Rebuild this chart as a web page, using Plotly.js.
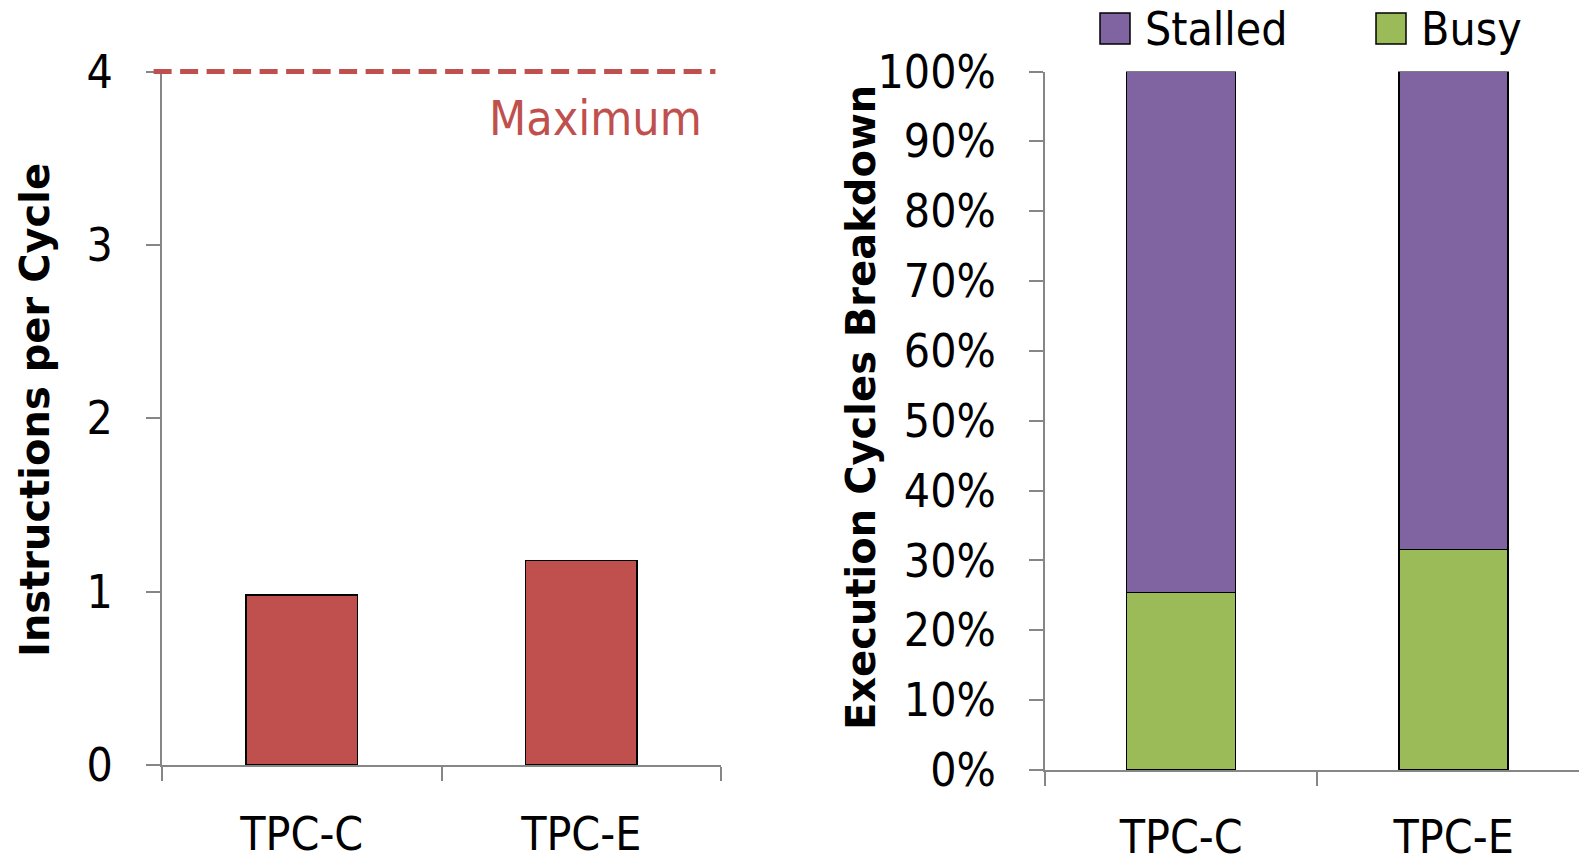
<!DOCTYPE html>
<html>
<head>
<meta charset="utf-8">
<script src="https://cdn.plot.ly/plotly-3.0.1.min.js"></script>
<style>
  html, body { margin: 0; padding: 0; background: #ffffff; }
  #chart { width: 1579px; height: 858px; }
</style>
</head>
<body>
<div id="chart"></div>
<script>
// Workloads
const workloads = ["TPC-C", "TPC-E"];

// Instructions per cycle, and the issue-width ceiling
const ipc = [0.98, 1.18];
const maxIPC = 4;
const ipcRange = [0, 4];
const ipcTicks = [0, 1, 2, 3, 4];

// Execution cycle breakdown (fractions of all cycles)
const busyShare = [0.254, 0.316];
const stalledShare = [0.746, 0.684];
const pctTicks = [0, 0.1, 0.2, 0.3, 0.4, 0.5, 0.6, 0.7, 0.8, 0.9, 1.0];

const RED = "#C0504D";
const PURPLE = "#8064A2";
const GREEN = "#9BBB59";
const AXIS = "#868686";
const NARROW = "Liberation Sans Narrow, DejaVu Sans Condensed, Arial Narrow, sans-serif";
const TICK_FONT = { family: NARROW, size: 46, color: "#000000" };
const TITLE_FONT = { family: "DejaVu Sans, Verdana, sans-serif", size: 40, color: "#000000", weight: 700 };

const traces = [
  {
    type: "bar", x: workloads, y: ipc, xaxis: "x", yaxis: "y",
    width: 0.4, name: "IPC",
    marker: { color: RED, line: { color: "#000000", width: 1.5 } },
    showlegend: false, hoverinfo: "x+y"
  },
  {
    type: "bar", x: workloads, y: busyShare, xaxis: "x2", yaxis: "y2",
    width: 0.4, name: "Busy",
    marker: { color: GREEN, line: { color: "#000000", width: 1.5 } },
    showlegend: false
  },
  {
    type: "bar", x: workloads, y: stalledShare, xaxis: "x2", yaxis: "y2",
    width: 0.4, name: "Stalled",
    marker: { color: PURPLE, line: { color: "#000000", width: 1.5 } },
    showlegend: false
  }
];

const xCommon = {
  type: "category", showgrid: false, zeroline: false,
  showline: true, linecolor: AXIS, linewidth: 2,
  ticks: "outside", tickson: "boundaries", ticklen: 14, tickcolor: AXIS, tickwidth: 2,
  tickfont: TICK_FONT, ticklabelstandoff: 28, fixedrange: true
};
const yCommon = {
  showgrid: false, zeroline: false,
  showline: true, linecolor: AXIS, linewidth: 2,
  ticks: "outside", ticklen: 14, tickcolor: AXIS, tickwidth: 2,
  tickfont: TICK_FONT, ticklabelstandoff: 24, fixedrange: true
};

// Legend swatches and labels for the stacked chart
const legendItems = [
  { label: "Stalled", color: PURPLE, x0: 1100 / 1579, x1: 1130 / 1579, tx: 1143 / 1579 },
  { label: "Busy", color: GREEN, x0: 1376 / 1579, x1: 1406 / 1579, tx: 1419 / 1579 }
];

// The ceiling line is placed in the y axis' domain units so it is not clipped at the plot edge
const maxFrac = (maxIPC - ipcRange[0]) / (ipcRange[1] - ipcRange[0]);

const shapes = [
  {
    type: "line", xref: "x domain", yref: "y domain",
    x0: -0.015, x1: 0.99, y0: maxFrac, y1: maxFrac,
    line: { color: RED, width: 5, dash: "18px,8.5px" }
  }
].concat(legendItems.map(it => ({
  type: "rect", xref: "paper", yref: "paper",
  x0: it.x0, x1: it.x1, y0: 1 - 44 / 858, y1: 1 - 13 / 858,
  fillcolor: it.color, line: { color: "#000000", width: 1.5 }
})));

const annotations = [
  {
    xref: "x domain", yref: "y", x: 0.97, y: 3.73,
    xanchor: "right", yanchor: "middle", showarrow: false,
    text: "Maximum",
    font: { family: NARROW, size: 48, color: RED }
  },
  {
    xref: "paper", yref: "paper", x: 35 / 1579, y: 1 - 410 / 858,
    xanchor: "center", yanchor: "middle", showarrow: false, textangle: -90,
    text: "Instructions per Cycle", font: TITLE_FONT
  },
  {
    xref: "paper", yref: "paper", x: 861 / 1579, y: 1 - 408 / 858,
    xanchor: "center", yanchor: "middle", showarrow: false, textangle: -90,
    text: "Execution Cycles Breakdown", font: TITLE_FONT
  }
].concat(legendItems.map(it => ({
  xref: "paper", yref: "paper", x: it.tx, y: 1 - 29 / 858,
  xanchor: "left", yanchor: "middle", showarrow: false,
  text: it.label, font: TICK_FONT
})));

const layout = {
  width: 1579, height: 858,
  margin: { l: 0, r: 0, t: 0, b: 0 },
  paper_bgcolor: "#ffffff", plot_bgcolor: "#ffffff",
  barmode: "stack", showlegend: false,
  xaxis: Object.assign({}, xCommon, {
    domain: [162 / 1579, 721 / 1579], range: [-0.5, 1.5], anchor: "y"
  }),
  yaxis: Object.assign({}, yCommon, {
    domain: [93 / 858, 786.5 / 858], range: ipcRange, anchor: "x",
    tickvals: ipcTicks
  }),
  xaxis2: Object.assign({}, xCommon, {
    domain: [1045 / 1579, 1], range: [-0.5, 1.46], anchor: "y2",
    ticklabelstandoff: 26
  }),
  yaxis2: Object.assign({}, yCommon, {
    domain: [88 / 858, 786.5 / 858], range: [0, 1], anchor: "x2",
    tickvals: pctTicks, tickformat: ".0%"
  }),
  shapes: shapes,
  annotations: annotations
};

Plotly.newPlot("chart", traces, layout, { staticPlot: true, displayModeBar: false });
</script>
</body>
</html>
